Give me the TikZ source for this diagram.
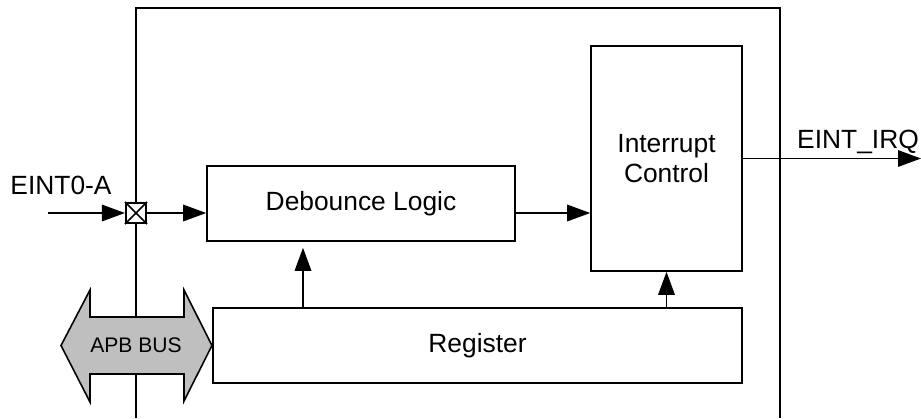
\documentclass[tikz,border=0pt]{standalone}
\usepackage{fontspec}
\setmainfont{Liberation Sans}
\usetikzlibrary{arrows.meta}
\definecolor{busgrey}{gray}{0.75}
\begin{document}
\begin{tikzpicture}[line width = 0.9pt, >={Triangle[length = 0.46cm, width = 0.33cm]},
  block/.style = {draw, font = \fontsize{15pt}{17.5pt}\selectfont, align = center},
  label/.style = {font = \fontsize{15pt}{18pt}\selectfont}]
\useasboundingbox (0,0) rectangle (18.42,8.36);
\draw (2.72,0) -- (2.72,8.2) -- (15.6,8.2) -- (15.6,0);
\filldraw[fill = busgrey] (1.22,1.45) -- (1.8,2.56) -- (1.8,2.02) -- (3.68,2.02) -- (3.68,2.56) -- (4.24,1.45) -- (3.68,0.34) -- (3.68,0.88) -- (1.8,0.88) -- (1.8,0.32) -- cycle;
\node at (2.72,1.45) (apb) [font = \fontsize{12pt}{14pt}\selectfont] {APB BUS};
\node at (7.22,4.29) (debounce) [block, minimum width = 6.16cm, minimum height = 1.5cm] {Debounce Logic};
\node at (13.33,5.19) (intctrl) [block, minimum width = 3.02cm, minimum height = 4.5cm] {Interrupt\\Control};
\node at (9.55,1.45) (register) [block, minimum width = 10.58cm, minimum height = 1.5cm] {Register};
\node at (2.72,4.1) (pin) [draw, fill = white, minimum size = 0.41cm, inner sep = 0pt] {};
\draw (pin.north west) -- (pin.south east) (pin.north east) -- (pin.south west);
\coordinate (eintin) at (0.96,4.1);
\coordinate (eintout) at (18.42,5.19);
\node at (1.22,4.66) (eintlabel) [label] {EINT0-A};
\node at (17.16,5.4) (irqlabel) [label, anchor = base] {EINT\_IRQ};
\draw[->] (eintin) -- (pin);
\draw[->] (pin) -- (debounce.west |- pin);
\draw[->] (debounce.east |- pin) -- (intctrl.west |- pin);
\draw[->] (register.north -| 6.06,0) -- ([yshift = -0.12cm] debounce.south -| 6.06,0);
\draw[->] (register.north -| intctrl) -- (intctrl.south);
\draw[->] (intctrl.east) -- (eintout);
\end{tikzpicture}
\end{document}
